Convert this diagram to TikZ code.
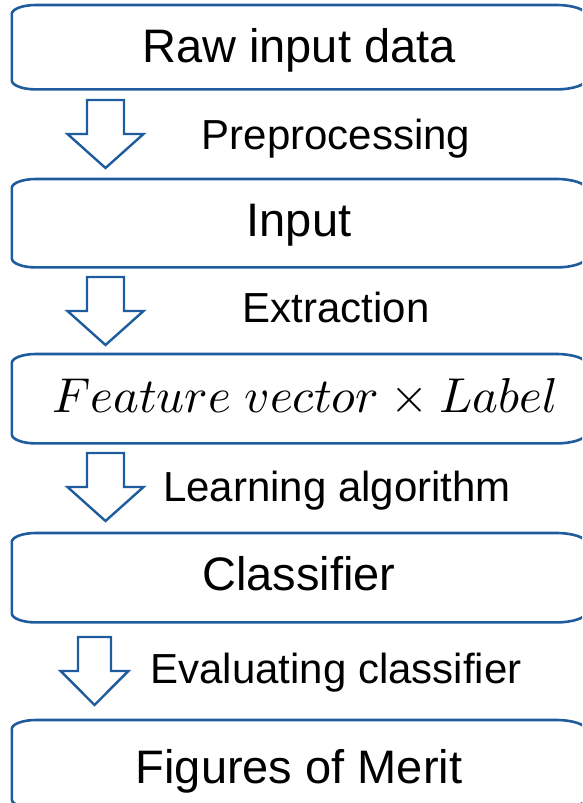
\documentclass[tikz,border=0pt]{standalone}
\usepackage{fontspec}
\setmainfont{Liberation Sans}
\usetikzlibrary{calc}
\definecolor{flowblue}{RGB}{31,92,158}
\tikzset{
  stage/.style={inner sep=0pt, minimum width=574pt, anchor=north,
                font=\fontsize{47}{50}\selectfont},
  outline/.style={draw=flowblue, line width=2.6pt},
  steplabel/.style={anchor=base, inner sep=0pt, font=\fontsize{42}{46}\selectfont},
  blockarrow/.style={draw=flowblue, line width=2.4pt, fill=white, line join=miter},
  downblock/.pic={
    \draw[blockarrow] (-18.5,0) -- (18.5,0) -- (18.5,34) -- (38,34)
      -- (0,68) -- (-38,34) -- (-18.5,34) -- cycle;
  },
}
% rounded frame with flattened elliptic corners around a stage node
\newcommand\stageoutline[1]{%
  \draw[outline] ($(#1.north west)+(0,9)$)
    .. controls ($(#1.north west)+(0,4)$) and ($(#1.north west)+(11,0)$) .. ($(#1.north west)+(24,0)$)
    -- ($(#1.north east)+(-30,0)$)
    .. controls ($(#1.north east)+(-13.5,0)$) and ($(#1.north east)+(0,4.5)$) .. ($(#1.north east)+(0,10)$)
    -- ($(#1.south east)+(0,-10)$)
    .. controls ($(#1.south east)+(0,-4.5)$) and ($(#1.south east)+(-13.5,0)$) .. ($(#1.south east)+(-30,0)$)
    -- ($(#1.south west)+(24,0)$)
    .. controls ($(#1.south west)+(11,0)$) and ($(#1.south west)+(0,-4)$) .. ($(#1.south west)+(0,-9)$)
    -- cycle;}
\begin{document}
\begin{tikzpicture}[x=1pt, y=-1pt]
  \clip (0,0) rectangle (582,803);

  % stages
  \node[stage, text height=57pt, text depth=27pt] (b1) at (299,5) {Raw input data};
  \node[stage, text height=57pt, text depth=31pt] (b2) at (299,179) {Input};
  \node[stage, text height=58pt, text depth=31pt] (b3) at (299,354)
    {\hspace{12pt}\fontsize{10}{12}\selectfont\scalebox{4.9}{$Feature\ vector \times Label$}};
  \node[stage, text height=57pt, text depth=32pt] (b4) at (299,533) {Classifier};
  \node[stage, text height=63pt, text depth=25pt] (b5) at (299,720) {Figures of Merit};

  \foreach \b in {b1,b2,b3,b4,b5} {\stageoutline{\b}}

  % block arrows between stages
  \pic at (105.5,100) {downblock};
  \pic at (105.5,277) {downblock};
  \pic at (105.5,453) {downblock};
  \pic[xscale=0.89] at (94.5,637) {downblock};

  % step labels
  \node[steplabel] (l1) at (336,149) {Preprocessing};
  \node[steplabel] (l2) at (336,322) {Extraction};
  \node[steplabel] (l3) at (337,501) {Learning algorithm};
  \node[steplabel] (l4) at (336,683) {Evaluating classifier};
\end{tikzpicture}
\end{document}
